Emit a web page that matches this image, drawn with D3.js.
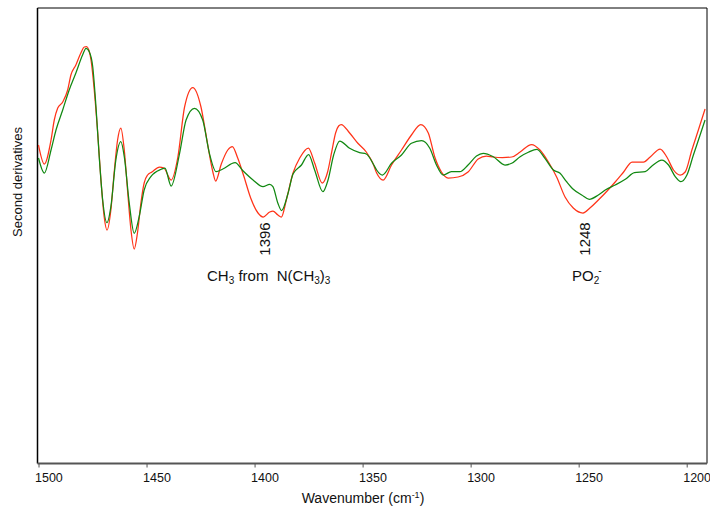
<!DOCTYPE html>
<html>
<head>
<meta charset="utf-8">
<script src="https://cdn.jsdelivr.net/npm/d3@7/dist/d3.min.js"></script>
<style>
  html, body { margin: 0; padding: 0; background: #fff; }
  svg { display: block; font-family: "Liberation Sans", Arial, sans-serif; }
  .keep-space { white-space: pre; }
</style>
</head>
<body>
<svg id="chart" width="710" height="510"></svg>
<script>
// Second-derivative spectra (arbitrary units) against wavenumber (cm-1)
const redWavenumber = [1500.0,1497.3,1494.2,1492.7,1491.1,1488.8,1486.5,1485.0,1482.7,1480.4,1478.8,1477.7,1475.7,1474.2,1472.6,1471.1,1469.6,1468.3,1466.5,1465.0,1463.4,1461.9,1460.3,1458.8,1457.2,1455.7,1454.2,1452.6,1451.1,1449.5,1447.5,1444.0,1442.0,1438.6,1435.5,1432.4,1428.6,1424.8,1422.3,1419.3,1418.0,1415.4,1412.4,1410.3,1407.8,1405.0,1401.8,1398.4,1396.0,1393.0,1391.5,1389.2,1387.6,1385.3,1382.2,1379.1,1375.1,1372.2,1368.7,1366.2,1364.3,1362.5,1361.1,1359.9,1356.0,1352.3,1348.3,1345.3,1343.5,1340.5,1336.6,1332.0,1327.4,1323.1,1319.6,1316.6,1313.5,1310.4,1305.8,1301.2,1296.5,1292.7,1289.5,1285.3,1281.0,1277.1,1271.8,1267.9,1264.0,1260.2,1256.3,1252.5,1248.0,1244.8,1240.9,1237.7,1233.1,1229.2,1225.3,1220.0,1216.9,1212.3,1209.2,1206.1,1203.0,1200.7,1197.6,1194.6,1191.5];
const redValue = [0.55,0.36,0.60,0.80,0.92,0.98,1.10,1.25,1.35,1.47,1.53,1.535,1.40,1.10,0.67,0.20,-0.17,-0.30,-0.10,0.27,0.60,0.72,0.50,0.10,-0.30,-0.49,-0.33,-0.03,0.17,0.25,0.28,0.33,0.32,0.20,0.43,0.93,1.125,0.93,0.63,0.28,0.19,0.36,0.50,0.535,0.42,0.24,0.02,-0.13,-0.17,-0.12,-0.11,-0.15,-0.17,0.00,0.27,0.42,0.52,0.37,0.17,0.28,0.48,0.67,0.74,0.755,0.67,0.57,0.48,0.37,0.27,0.20,0.35,0.50,0.65,0.755,0.67,0.43,0.28,0.22,0.23,0.28,0.41,0.44,0.43,0.425,0.43,0.48,0.555,0.50,0.38,0.23,0.03,-0.08,-0.13,-0.08,0.00,0.07,0.18,0.28,0.38,0.38,0.43,0.51,0.43,0.30,0.25,0.28,0.50,0.70,0.91];

const greenWavenumber = [1500.0,1497.3,1494.2,1491.9,1488.8,1485.8,1482.7,1479.6,1478.0,1476.5,1474.9,1473.4,1471.9,1470.3,1468.3,1466.5,1464.2,1461.9,1460.3,1458.0,1455.7,1453.4,1451.1,1448.0,1443.2,1441.5,1438.6,1434.7,1431.7,1427.8,1424.0,1420.9,1417.8,1414.7,1409.0,1405.5,1400.7,1396.1,1393.0,1391.5,1389.2,1387.5,1384.5,1382.2,1378.3,1375.0,1372.2,1368.4,1366.0,1363.4,1360.6,1356.0,1351.4,1348.3,1344.8,1343.5,1340.8,1336.6,1332.0,1327.4,1322.7,1318.9,1315.8,1312.7,1308.9,1305.0,1301.2,1297.3,1294.2,1289.5,1284.1,1281.0,1277.1,1273.3,1269.4,1265.6,1261.7,1258.6,1255.6,1252.5,1248.6,1245.1,1240.9,1237.7,1233.1,1228.4,1224.2,1219.2,1216.1,1211.5,1208.4,1205.3,1202.7,1199.9,1196.9,1193.8,1191.5];
const greenValue = [0.42,0.27,0.50,0.70,0.90,1.10,1.27,1.45,1.517,1.483,1.333,0.933,0.433,0.00,-0.227,-0.067,0.40,0.583,0.433,-0.03,-0.333,-0.167,0.10,0.233,0.307,0.32,0.14,0.467,0.80,0.917,0.80,0.467,0.283,0.31,0.373,0.295,0.20,0.133,0.157,0.133,-0.033,-0.105,0.067,0.26,0.35,0.455,0.30,0.083,0.20,0.45,0.59,0.517,0.473,0.46,0.35,0.30,0.25,0.367,0.45,0.567,0.593,0.517,0.35,0.25,0.283,0.283,0.35,0.44,0.467,0.433,0.35,0.367,0.433,0.477,0.507,0.417,0.30,0.267,0.183,0.107,0.05,0.007,0.05,0.10,0.15,0.207,0.273,0.283,0.34,0.40,0.35,0.233,0.183,0.25,0.45,0.65,0.80];

const xTicks = [1500, 1450, 1400, 1350, 1300, 1250, 1200];
const peakLabels = [
  { wn: 1396, text: "1396" },
  { wn: 1248, text: "1248" }
];

const svg = d3.select("#chart");
const plot = { left: 37.5, top: 8, right: 707, bottom: 463.5 };

const x = d3.scaleLinear().domain([1500, 1200]).range([38.5, 686.7]);
const y = d3.scaleLinear().domain([-2.635, 1.92]).range([plot.bottom, plot.top]);

// frame
svg.append("line").attr("x1", plot.left).attr("x2", plot.right).attr("y1", plot.top).attr("y2", plot.top)
  .attr("stroke", "#000").attr("stroke-width", 1);
svg.append("line").attr("x1", plot.right).attr("x2", plot.right).attr("y1", plot.top).attr("y2", plot.bottom)
  .attr("stroke", "#000").attr("stroke-width", 1);
svg.append("line").attr("x1", plot.left).attr("x2", plot.left).attr("y1", plot.top).attr("y2", plot.bottom)
  .attr("stroke", "#000").attr("stroke-width", 1.5);

// bottom axis
const xAxis = d3.axisBottom(x).tickValues(xTicks).tickSize(4).tickSizeOuter(0).tickFormat(d3.format("d"));
const gx = svg.append("g").attr("transform", `translate(0,${plot.bottom})`).call(xAxis);
gx.select(".domain").remove();
gx.selectAll(".tick line").attr("stroke", "#555").attr("stroke-width", 1);
gx.selectAll(".tick text")
  .attr("font-family", "Liberation Sans, Arial, sans-serif")
  .attr("font-size", 12.5).attr("fill", "#111")
  .attr("text-anchor", "start").attr("x", -4).attr("dy", null).attr("y", 18.5);
svg.append("line").attr("x1", plot.left).attr("x2", plot.right).attr("y1", plot.bottom).attr("y2", plot.bottom)
  .attr("stroke", "#555").attr("stroke-width", 2);

// axis titles
const xt = svg.append("text").attr("x", 363).attr("y", 503).attr("text-anchor", "middle")
  .attr("font-size", 14).attr("fill", "#111");
xt.append("tspan").text("Wavenumber (cm");
xt.append("tspan").attr("font-size", 9).attr("dy", -5).text("-1");
xt.append("tspan").attr("dy", 5).text(")");

svg.append("text").attr("transform", "translate(22,182) rotate(-90)").attr("text-anchor", "middle")
  .attr("font-size", 13).attr("fill", "#111").text("Second derivatives");

// spectra
const line = d3.line().x(d => x(d[0])).y(d => y(d[1])).curve(d3.curveMonotoneX);
const redData = d3.zip(redWavenumber, redValue);
const greenData = d3.zip(greenWavenumber, greenValue);

svg.append("path").datum(redData).attr("d", line).attr("fill", "none")
  .attr("stroke", "#ff3318").attr("stroke-width", 1.25);
svg.append("path").datum(greenData).attr("d", line).attr("fill", "none")
  .attr("stroke", "#118811").attr("stroke-width", 1.25);

// peak position labels
peakLabels.forEach(p => {
  svg.append("text")
    .attr("transform", `translate(${x(p.wn) + 7},239) rotate(-90)`)
    .attr("text-anchor", "middle").attr("font-size", 15).attr("fill", "#111")
    .text(p.text);
});

// band assignments
const a1 = svg.append("text").attr("class", "keep-space").attr("x", 207).attr("y", 281)
  .attr("font-size", 15).attr("fill", "#111");
a1.append("tspan").text("CH");
a1.append("tspan").attr("font-size", 10).attr("dy", 3).text("3");
a1.append("tspan").attr("dy", -3).text(" from  N(CH");
a1.append("tspan").attr("font-size", 10).attr("dy", 3).text("3");
a1.append("tspan").attr("dy", -3).text(")");
a1.append("tspan").attr("font-size", 10).attr("dy", 3).text("3");

const a2 = svg.append("text").attr("x", 572).attr("y", 281).attr("font-size", 15).attr("fill", "#111");
a2.append("tspan").text("PO");
a2.append("tspan").attr("font-size", 10).attr("dy", 3).text("2");
a2.append("tspan").attr("font-size", 10).attr("dx", -1).attr("dy", -10).text("-");
</script>
</body>
</html>
